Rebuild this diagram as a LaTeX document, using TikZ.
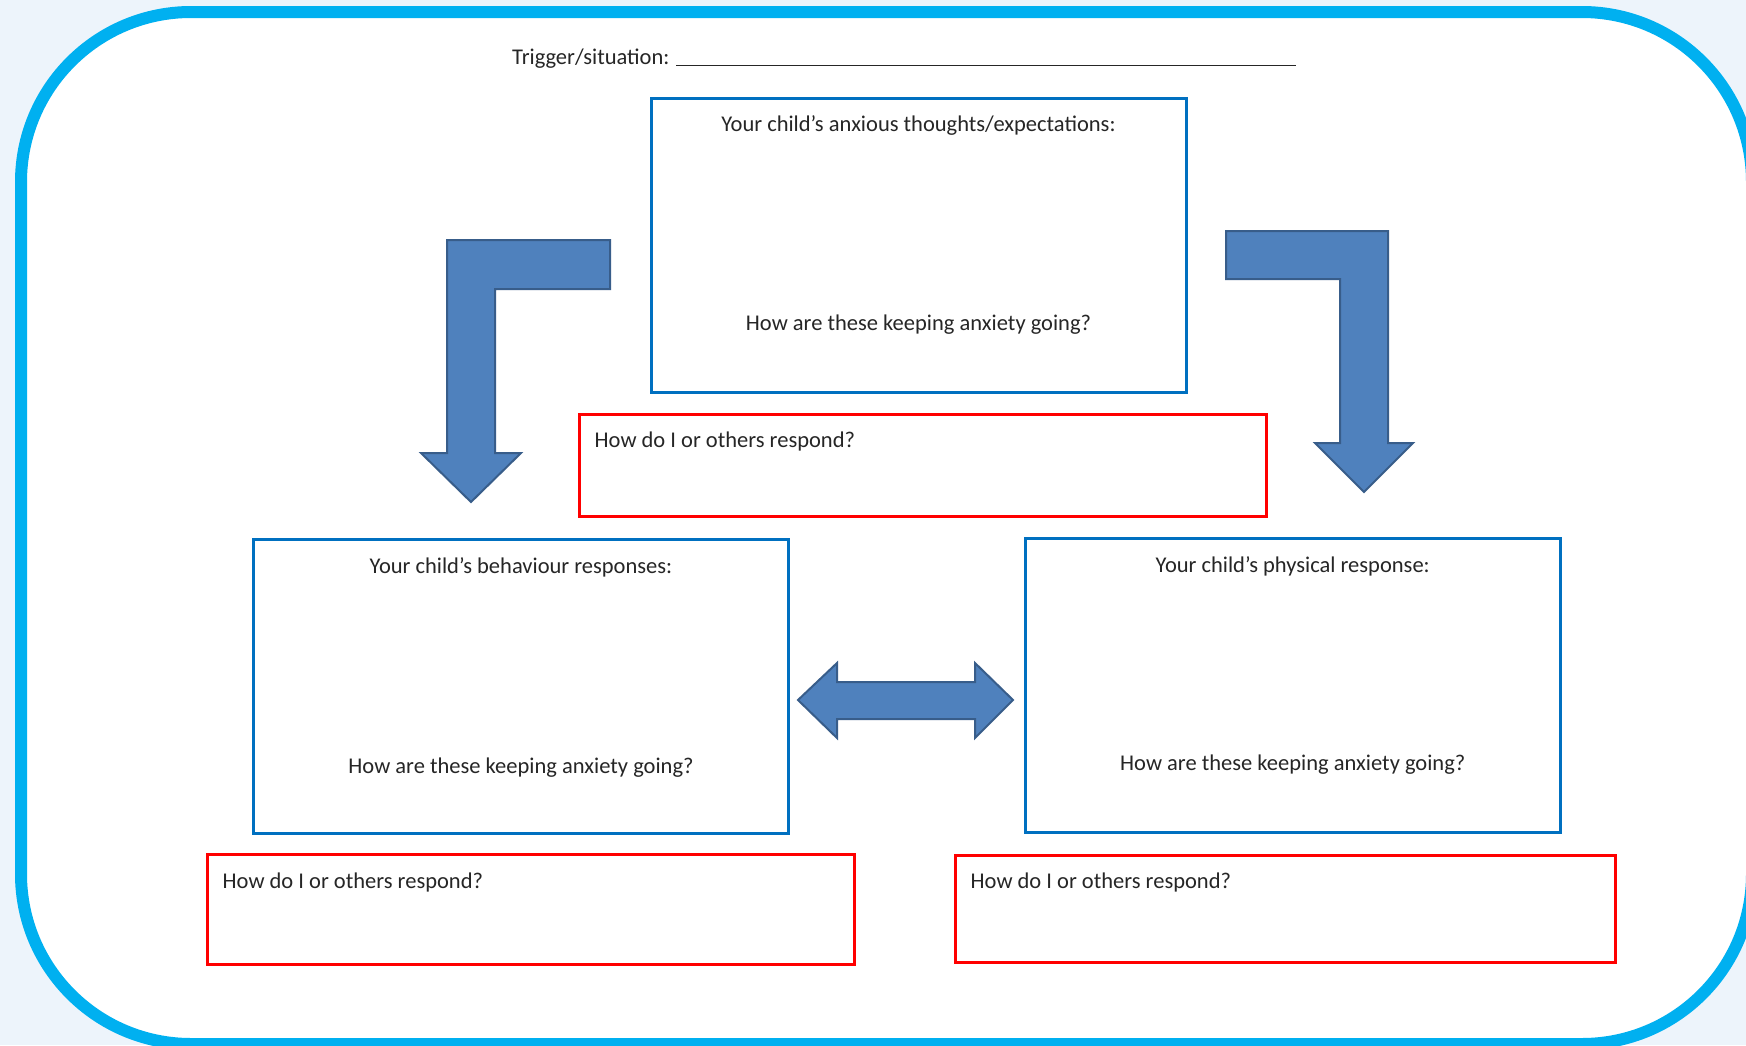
\documentclass[tikz,border=0pt]{standalone}
\usepackage{fontspec}
\setmainfont{Carlito}
\usetikzlibrary{positioning,calc}
\definecolor{framecyan}{RGB}{0,176,240}
\definecolor{pagebg}{RGB}{237,244,251}
\definecolor{boxblue}{RGB}{0,112,192}
\definecolor{arrowfill}{RGB}{79,129,189}
\definecolor{arrowedge}{RGB}{56,93,138}

\begin{document}
\begin{tikzpicture}[
    x=1pt, y=-1pt,
    every node/.style={font=\fontsize{22.5}{26}\selectfont, text=black!85},
    mainbox/.style={draw=boxblue, line width=3pt, minimum width=535pt, minimum height=294pt},
    respbox/.style={draw=red, line width=3pt, minimum height=106pt},
    lbl/.style={inner sep=0pt},
    blockarrow/.style={fill=arrowfill, draw=arrowedge, line width=2pt, line join=miter}
]
% page and frame
\useasboundingbox (0,0) rectangle (1746,1045);
\fill[pagebg] (0,0) rectangle (1746,1045);
\draw[framecyan, line width=12pt, fill=white, rounded corners=170pt] (21,12) rectangle (1752,1044);

% trigger line
\node[lbl, anchor=base west] (trigger) at (512,64)
     {Trigger/situation: \underline{\hspace{620pt}}};

% the three main boxes
\node[mainbox] (thoughts) at (918.5,245) {};
\node[mainbox] (behav) at (521,686.5) {};
\node[mainbox] (phys) at (1292.75,685) {};

\node[lbl] (thoughtsT) at ($(thoughts.north)+(0,29)$) {Your child’s anxious thoughts/expectations:};
\node[lbl] (thoughtsQ) at ($(thoughts.south)+(0,-68.5)$) {How are these keeping anxiety going?};
\node[lbl] (behavT) at ($(behav.north)+(0,29.5)$) {Your child’s behaviour responses:};
\node[lbl] (behavQ) at ($(behav.south)+(0,-67.5)$) {How are these keeping anxiety going?};
\node[lbl] (physT) at ($(phys.north)+(0,30)$) {Your child’s physical response:};
\node[lbl] (physQ) at ($(phys.south)+(0,-69)$) {How are these keeping anxiety going?};

% response boxes
\node[respbox, minimum width=687pt, minimum height=102pt] (respmid) at (922.5,465) {};
\node[respbox, minimum width=647pt, minimum height=110pt] (respleft) at (530.5,909) {};
\node[respbox, minimum width=660pt, minimum height=107pt] (respright) at (1285,908.5) {};

\node[lbl, anchor=west] (respmidT) at ($(respmid.north west)+(17,28.5)$) {How do I or others respond?};
\node[lbl, anchor=west] (respleftT) at ($(respleft.north west)+(17,29.5)$) {How do I or others respond?};
\node[lbl, anchor=west] (resprightT) at ($(respright.north west)+(17,28.5)$) {How do I or others respond?};

% block arrows
\draw[blockarrow] (610,240) -- (447,240) -- (447,453) -- (421,453) -- (471,502)
     -- (521,453) -- (495,453) -- (495,289) -- (610,289) -- cycle;
\draw[blockarrow] (1226,231) -- (1388,231) -- (1388,443) -- (1413,443) -- (1364,492)
     -- (1315,443) -- (1340,443) -- (1340,279) -- (1226,279) -- cycle;
\draw[blockarrow] (798,700) -- (837,663) -- (837,682) -- (975,682) -- (975,663) -- (1013,700)
     -- (975,738) -- (975,719) -- (837,719) -- (837,738) -- cycle;
\end{tikzpicture}
\end{document}
